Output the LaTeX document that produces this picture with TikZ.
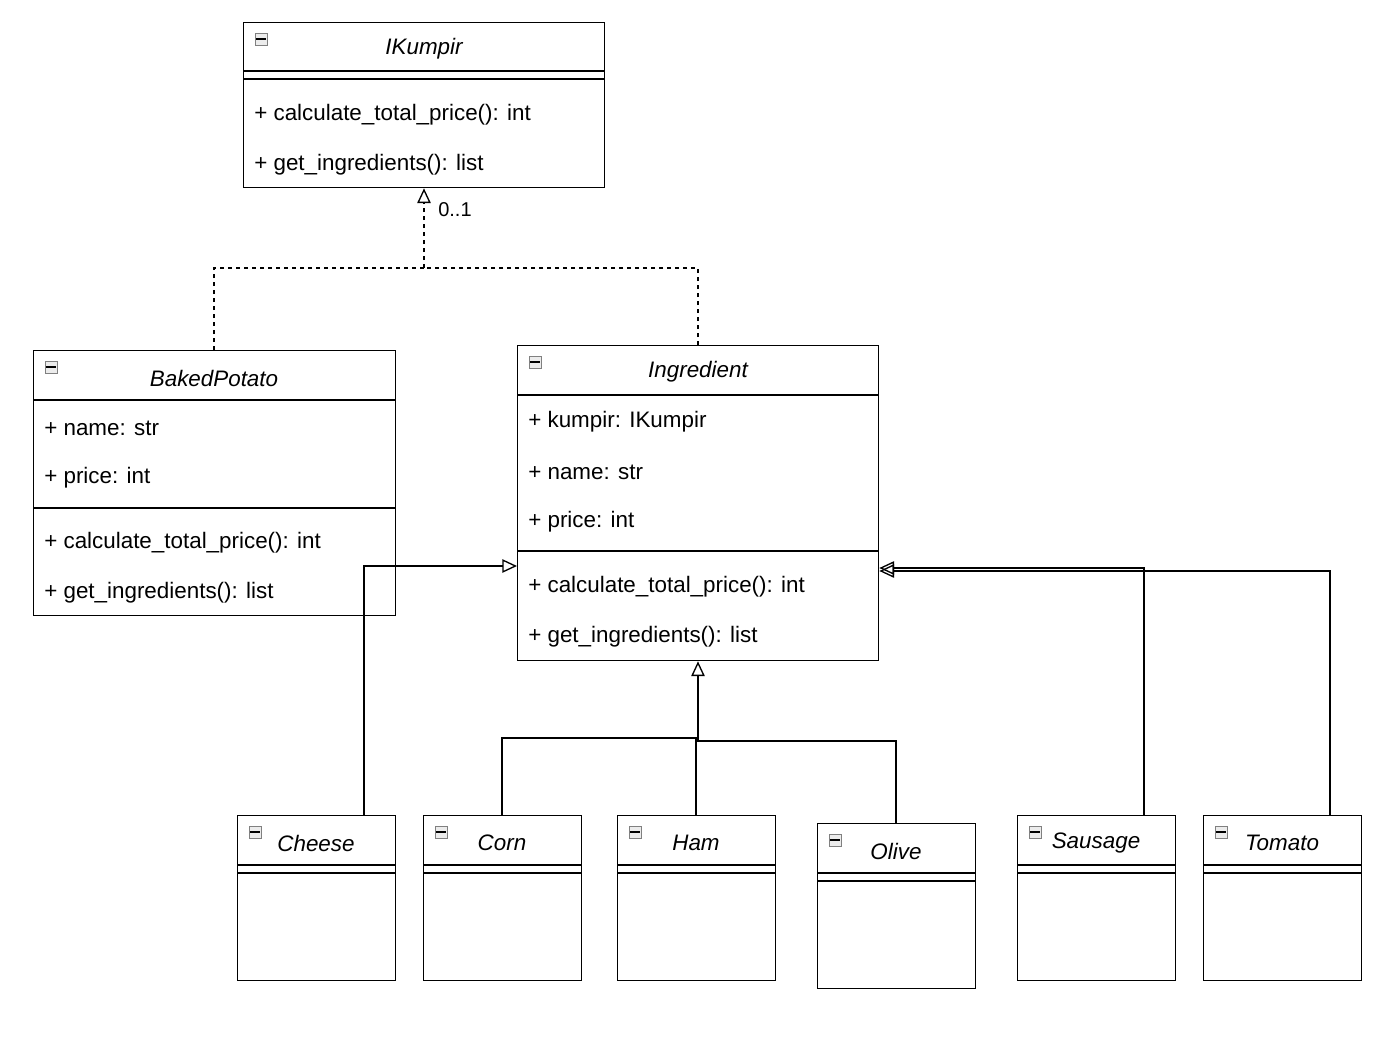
\documentclass[tikz,border=0pt]{standalone}
\usepackage{fontspec}
\setmainfont{Liberation Sans}
\usetikzlibrary{arrows.meta}
\begin{document}
\begin{tikzpicture}[x=0.75pt,y=-0.75pt,
  box/.style={draw,line width=1pt,anchor=north west,inner sep=0pt},
  txt/.style={anchor=west,font=\fontsize{16.8}{19}\selectfont,inner sep=0pt,yshift=-1.5pt},
  ttl/.style={font=\fontsize{16.8}{19}\selectfont\itshape,inner sep=0pt,yshift=-1.5pt},
  ic/.style={draw=gray,fill=gray!15,minimum size=9pt,inner sep=0pt,line width=0.5pt},
  ln/.style={line width=1pt},
  gen/.style={ln,-{Triangle[open,length=11pt,width=10pt]}},
  real/.style={gen,dashed}]
\useasboundingbox (0,0) rectangle (1400,1064);
% IKumpir
\node[box,minimum width=270.75pt,minimum height=123.75pt] (ik) at (243,22) {};
\draw[ln] (243,71)--(604,71) (243,79)--(604,79);
\node[ic] (ik-i) at (261,39) {}; \draw[ln] (256,39)--(266,39);
\node[ttl] (ik-t) at (424,47) {IKumpir};
\node[txt] (ik-1) at (254,113) {+ calculate\_total\_price(): int};
\node[txt] (ik-2) at (254,163) {+ get\_ingredients(): list};
% BakedPotato
\node[box,minimum width=271.5pt,minimum height=198.75pt] (bp) at (33,350) {};
\draw[ln] (33,400)--(395,400) (33,508)--(395,508);
\node[ic] (bp-i) at (51,367) {}; \draw[ln] (46,367)--(56,367);
\node[ttl] (bp-t) at (214,376) {BakedPotato};
\node[txt] (bp-1) at (44,426) {+ name: str};
\node[txt] (bp-2) at (44,476) {+ price: int};
\node[txt] (bp-3) at (44,541) {+ calculate\_total\_price(): int};
\node[txt] (bp-4) at (44,591) {+ get\_ingredients(): list};
% Ingredient
\node[box,minimum width=270.75pt,minimum height=236.25pt] (in) at (517,345) {};
\draw[ln] (517,395)--(878,395) (517,551)--(878,551);
\node[ic] (in-i) at (535,362) {}; \draw[ln] (530,362)--(540,362);
\node[ttl] (in-t) at (698,370) {Ingredient};
\node[txt] (in-1) at (528,420) {+ kumpir: IKumpir};
\node[txt] (in-2) at (528,470) {+ name: str};
\node[txt] (in-3) at (528,520) {+ price: int};
\node[txt] (in-4) at (528,585) {+ calculate\_total\_price(): int};
\node[txt] (in-5) at (528,635) {+ get\_ingredients(): list};
% small classes
\foreach \n/\x/\y/\t in {ch/237/815/Cheese,co/423/815/Corn,ha/617/815/Ham,ol/817/823/Olive,sa/1017/815/Sausage,to/1203/815/Tomato}{
  \node[box,minimum width=118.5pt,minimum height=123.75pt] (\n) at (\x,\y) {};
  \draw[ln] (\x,\y+50)--(\x+158,\y+50) (\x,\y+58)--(\x+158,\y+58);
  \node[ic] (\n-i) at (\x+18,\y+17) {}; \draw[ln] (\x+13,\y+17)--(\x+23,\y+17);
  \node[ttl] (\n-t) at (\x+79,\y+26) {\t};
}
% realization
\coordinate (j) at (424,268);
\draw[ln,dashed] (bp.north -| 214,0) |- (j);
\draw[ln,dashed] (in.north -| 698,0) |- (j);
\draw[real] (j) -- (ik.south -| 424,0);
\node[font=\fontsize{15}{18}\selectfont,anchor=west,inner sep=0pt] (m) at (438,210) {0..1};
% generalizations
\draw[gen] (ch.north -| 364,0) |- (in.west |- 0,566);
\draw[ln] (co.north -| 502,0) |- (697,738);
\draw[ln] (ol.north -| 896,0) |- (697,741);
\draw[gen] (ha.north -| 696,0) -- (696,740) -- (698,740) -- (in.south -| 698,0);
\draw[gen] (sa.north -| 1144,0) |- (in.east |- 0,568);
\draw[gen] (to.north -| 1330,0) |- (in.east |- 0,571);
\end{tikzpicture}
\end{document}
